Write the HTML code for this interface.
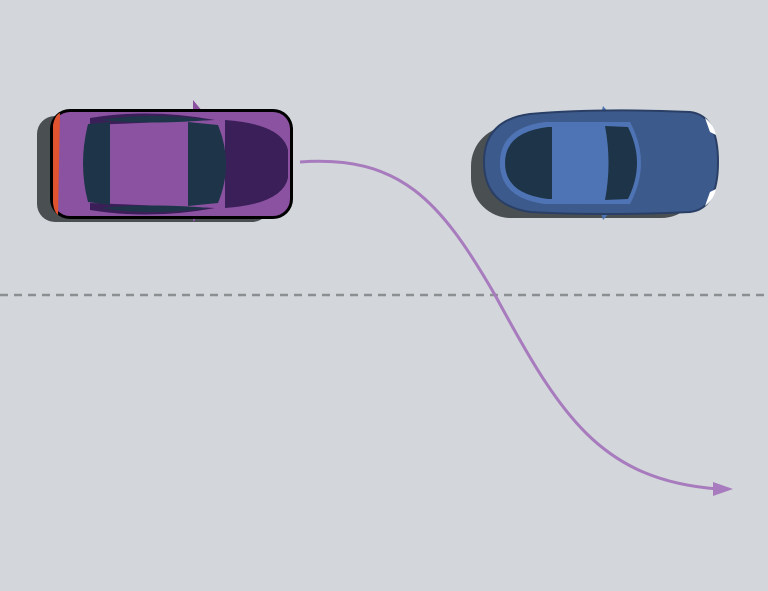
<!DOCTYPE html>
<html><head><style>html,body{margin:0;padding:0;background:#d3d7db;}svg{display:block}</style></head>
<body>
<svg width="768" height="591" viewBox="0 0 768 591" xmlns="http://www.w3.org/2000/svg">
<rect width="768" height="591" fill="#d3d7db"/>
<line x1="0" y1="295" x2="768" y2="295" stroke="#8c8f92" stroke-width="2.5" stroke-dasharray="8,6"/>
<path d="M300 162 C 400 155, 440 200, 495 295 C 560 415, 600 480, 718 489" fill="none" stroke="#a77bbd" stroke-width="3"/>
<polygon points="733,489 713,482 713,496" fill="#a77bbd"/>
<!-- purple car -->
<rect x="37" y="116" width="233" height="106" rx="18" fill="#4a4f52"/>
<polygon points="193,100 203,112 193,114" fill="#8b52a1"/>
<polygon points="193,222 203,212 193,210" fill="#8b52a1"/>
<rect x="50" y="109" width="243" height="110" rx="20" fill="#000"/>
<rect x="53" y="112" width="237" height="104" rx="17" fill="#8b52a1"/>
<path d="M225 120 Q 282 124 288 150 L288 178 Q 282 204 225 208 Z" fill="#3a1f58"/>
<path d="M53 125 Q 55 115 60 113 L58 215 Q 54 212 53 203 Z" fill="#e0532f"/>
<path d="M90 118 Q 150 108 215 120 L 90 125 Z" fill="#3a1f58"/>
<path d="M90 210 Q 150 220 215 208 L 90 203 Z" fill="#3a1f58"/>
<path d="M100 120 Q 150 112 210 120 Q 150 125 100 120 Z" fill="#1e3549"/>
<path d="M100 208 Q 150 216 210 208 Q 150 203 100 208 Z" fill="#1e3549"/>
<path d="M88 124 L110 122 L110 205 L88 202 Q 78 164 88 124 Z" fill="#1e3549"/>
<path d="M188 122 L218 125 Q 234 164 218 203 L188 206 Z" fill="#1e3549"/>
<!-- blue car -->
<rect x="471" y="126" width="230" height="92" rx="40" fill="#4a4f52"/>
<polygon points="603,106 612,116 600,118" fill="#4f74b5"/>
<polygon points="603,220 612,210 600,208" fill="#4f74b5"/>
<path d="M530 114 Q 600 108 690 112 Q 718 115 718 162 Q 718 209 690 212 Q 600 216 530 212 Q 484 205 484 162 Q 484 120 530 114 Z" fill="#3d5a8c" stroke="#2a3f66" stroke-width="2"/>
<path d="M545 122 Q 500 128 500 163 Q 500 198 545 204 L 630 204 Q 652 163 630 122 Z" fill="#4f74b5"/>
<path d="M548 127 Q 505 132 505 163 Q 505 194 548 199 L 552 199 L 552 127 Z" fill="#1e3549"/>
<path d="M605 126 L 628 127 Q 646 163 628 199 L 605 200 Q 612 163 605 126 Z" fill="#1e3549"/>
<rect x="552" y="128" width="53" height="71" fill="#4f74b5"/>
<path d="M705 118 Q 714 125 716 135 L 710 132 Z" fill="#fff"/>
<path d="M705 206 Q 714 199 716 189 L 710 192 Z" fill="#fff"/>
</svg>
</body></html>
